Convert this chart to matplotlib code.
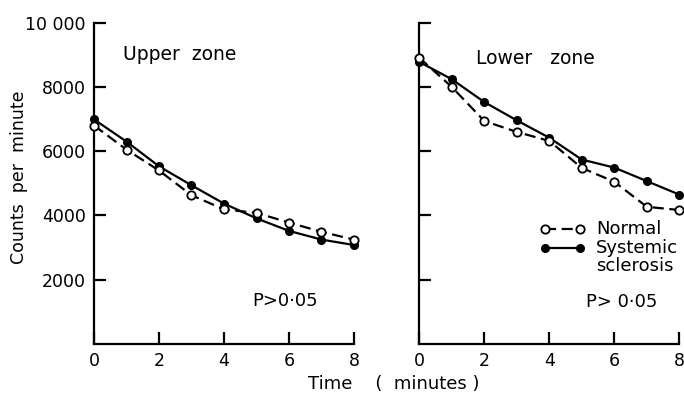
import matplotlib
matplotlib.use("Agg")
import matplotlib.pyplot as plt
from matplotlib.lines import Line2D

time = [0, 1, 2, 3, 4, 5, 6, 7, 8]
upper_normal = [6800, 6050, 5400, 4630, 4190, 4080, 3780, 3490, 3250]
upper_ss = [6990, 6300, 5530, 4940, 4370, 3910, 3520, 3250, 3080]
lower_normal = [8910, 8000, 6940, 6600, 6320, 5480, 5050, 4270, 4170]
lower_ss = [8780, 8240, 7530, 6960, 6420, 5740, 5490, 5070, 4650]
x_ticks = [0, 2, 4, 6, 8]
y_ticks = [2000, 4000, 6000, 8000, 10000]
y_labels = ["2000", "4000", "6000", "8000", "10 000"]

plt.rcParams['font.family'] = ['DejaVu Sans']
fig = plt.figure(figsize=(6.84, 3.95), dpi=100)
axL = fig.add_axes([94/684, 51/395, 260/684, 321.3/395])
axR = fig.add_axes([419.3/684, 51/395, 260/684, 321.3/395])

lw = 1.6
dash = (0, (5, 2.5))
for ax, norm, ss in [(axL, upper_normal, upper_ss), (axR, lower_normal, lower_ss)]:
    ax.plot(time, ss, color='black', lw=lw, marker='o', ms=5.5, mfc='black', mec='black', zorder=3)
    ax.plot(time, norm, color='black', lw=lw, ls=dash, marker='o', ms=6, mfc='white',
            mec='black', mew=1.3, zorder=4)
    ax.set_xlim(0, 8)
    ax.set_ylim(0, 10000)
    ax.set_xticks(x_ticks)
    ax.set_yticks(y_ticks)
    for s in ['top', 'right']:
        ax.spines[s].set_visible(False)
    for s in ['left', 'bottom']:
        ax.spines[s].set_linewidth(1.6)
        ax.spines[s].set_clip_on(False)
    ax.tick_params(direction='in', length=8.5, width=1.6, labelsize=12.5, pad=6)
    for l in ax.get_lines():
        l.set_clip_on(False)

axL.set_yticklabels(y_labels)
axR.set_yticklabels([])
axL.set_ylabel("Counts  per  minute", fontsize=12.5)
axL.yaxis.set_label_coords(-0.255, 0.52)

axL.text(0.11, 0.90, "Upper  zone", transform=axL.transAxes, fontsize=13.5, va='center', ha='left')
axR.text(0.22, 0.89, "Lower   zone", transform=axR.transAxes, fontsize=13.5, va='center', ha='left')
axL.text(0.61, 0.135, "P>0·05", transform=axL.transAxes, fontsize=13, va='center', ha='left')
axR.text(0.64, 0.13, "P> 0·05", transform=axR.transAxes, fontsize=13, va='center', ha='left')

# manual legend
tr = axR.transAxes
axR.add_line(Line2D([0.483, 0.618], [0.358, 0.358], transform=tr, color='black', lw=lw, ls=dash,
                    marker='o', ms=6, mfc='white', mec='black', mew=1.3, clip_on=False))
axR.add_line(Line2D([0.483, 0.618], [0.299, 0.299], transform=tr, color='black', lw=lw,
                    marker='o', ms=5.5, mfc='black', mec='black', clip_on=False))
axR.text(0.68, 0.358, "Normal", transform=tr, fontsize=13, va='center', ha='left')
axR.text(0.68, 0.299, "Systemic", transform=tr, fontsize=13, va='center', ha='left')
axR.text(0.68, 0.243, "sclerosis", transform=tr, fontsize=13, va='center', ha='left')

fig.text(0.575, 0.028, "Time    (  minutes )", fontsize=13, ha='center', va='center')

fig.savefig("out.png", dpi=100)
